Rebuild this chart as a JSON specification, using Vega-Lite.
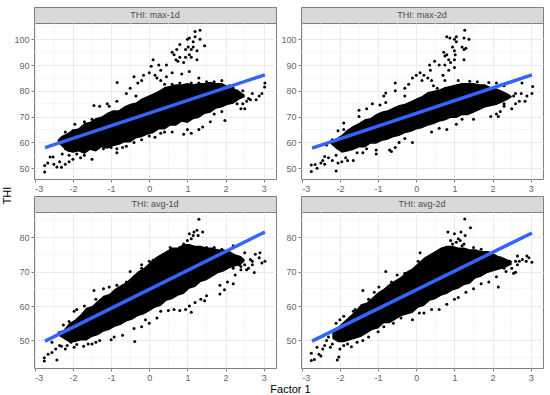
{"$schema":"https://vega.github.io/schema/vega-lite/v6.json","padding":{"left":0,"top":6,"right":0,"bottom":0},"background":"white",
"config":{"font":"Liberation Sans","view":{"stroke":"#7f7f7f","strokeWidth":1},"axis":{"grid":true,"gridColor":"#ebebeb","gridWidth":1,"domain":false,"tickColor":"#7f7f7f","tickSize":3,"labelColor":"#666666","labelFontSize":9,"labelPadding":2,"titleFontWeight":"normal","titleFontSize":11,"titleColor":"#000000"}},
"datasets":{
"minorX":[{"x":-2.5},{"x":-1.5},{"x":-0.5},{"x":0.5},{"x":1.5},{"x":2.5}],
"minorYT":[{"y":55},{"y":65},{"y":75},{"y":85},{"y":95},{"y":105}],
"minorYB":[{"y":45},{"y":55},{"y":65},{"y":75},{"y":85}],
"env1":[{"x":-2.4,"lo":60,"hi":61},{"x":-2.3,"lo":58.5,"hi":62.5},{"x":-2.15,"lo":56.5,"hi":63.5},{"x":-2,"lo":56,"hi":65},{"x":-1.85,"lo":56.5,"hi":65.5},{"x":-1.7,"lo":55.5,"hi":67.5},{"x":-1.55,"lo":57,"hi":68},{"x":-1.4,"lo":56.5,"hi":69.5},{"x":-1.25,"lo":58,"hi":70},{"x":-1.1,"lo":57.5,"hi":71.5},{"x":-0.95,"lo":58.5,"hi":72.5},{"x":-0.8,"lo":59,"hi":72.5},{"x":-0.65,"lo":60,"hi":74},{"x":-0.5,"lo":60,"hi":75},{"x":-0.35,"lo":61.5,"hi":75.5},{"x":-0.2,"lo":62,"hi":77},{"x":-0.05,"lo":63,"hi":78},{"x":0.1,"lo":63.5,"hi":79},{"x":0.25,"lo":65,"hi":80},{"x":0.4,"lo":65,"hi":81.5},{"x":0.55,"lo":66.5,"hi":82},{"x":0.7,"lo":66.5,"hi":82.5},{"x":0.85,"lo":68,"hi":82.5},{"x":1,"lo":67.5,"hi":83},{"x":1.15,"lo":69,"hi":82.5},{"x":1.3,"lo":69.5,"hi":83},{"x":1.45,"lo":71,"hi":83},{"x":1.6,"lo":71.5,"hi":83.5},{"x":1.75,"lo":73,"hi":83},{"x":1.9,"lo":73.5,"hi":83},{"x":2.05,"lo":74.5,"hi":82},{"x":2.2,"lo":75,"hi":81},{"x":2.35,"lo":76.5,"hi":80},{"x":2.5,"lo":77.5,"hi":78.5}],
"env2":[{"x":-2.25,"lo":59.5,"hi":60.5},{"x":-2.1,"lo":57.5,"hi":61.5},{"x":-1.95,"lo":56,"hi":63},{"x":-1.8,"lo":56.5,"hi":65},{"x":-1.65,"lo":57,"hi":66.5},{"x":-1.5,"lo":58,"hi":67.5},{"x":-1.35,"lo":58,"hi":69},{"x":-1.2,"lo":59.5,"hi":69.5},{"x":-1.05,"lo":59.5,"hi":71},{"x":-0.9,"lo":60.5,"hi":72},{"x":-0.75,"lo":61,"hi":72.5},{"x":-0.6,"lo":62,"hi":73.5},{"x":-0.45,"lo":62.5,"hi":74.5},{"x":-0.3,"lo":63.5,"hi":75},{"x":-0.15,"lo":64,"hi":76},{"x":0,"lo":65,"hi":77},{"x":0.15,"lo":65.5,"hi":78},{"x":0.3,"lo":66.5,"hi":79.5},{"x":0.45,"lo":67,"hi":80},{"x":0.6,"lo":68,"hi":80.5},{"x":0.75,"lo":68.5,"hi":81.5},{"x":0.9,"lo":69.5,"hi":82},{"x":1.05,"lo":69.5,"hi":82.5},{"x":1.2,"lo":70.5,"hi":83},{"x":1.35,"lo":70.5,"hi":83},{"x":1.5,"lo":71.5,"hi":83},{"x":1.65,"lo":72.5,"hi":82.5},{"x":1.8,"lo":73.5,"hi":82.5},{"x":1.95,"lo":74,"hi":81.5},{"x":2.1,"lo":74.5,"hi":81},{"x":2.25,"lo":75.5,"hi":80},{"x":2.4,"lo":76.5,"hi":79},{"x":2.5,"lo":77.5,"hi":78}],
"env3":[{"x":-2.4,"lo":51.5,"hi":52.5},{"x":-2.25,"lo":50.5,"hi":53},{"x":-2.1,"lo":49.5,"hi":55},{"x":-1.95,"lo":49.5,"hi":56},{"x":-1.8,"lo":50,"hi":57.5},{"x":-1.65,"lo":50,"hi":59.5},{"x":-1.5,"lo":51,"hi":60},{"x":-1.35,"lo":51.5,"hi":61.5},{"x":-1.2,"lo":52.5,"hi":63},{"x":-1.05,"lo":53,"hi":63.5},{"x":-0.9,"lo":54,"hi":65},{"x":-0.75,"lo":54.5,"hi":66},{"x":-0.6,"lo":55.5,"hi":67},{"x":-0.45,"lo":56,"hi":68.5},{"x":-0.3,"lo":57,"hi":70},{"x":-0.15,"lo":57.5,"hi":71},{"x":0,"lo":58.5,"hi":72.5},{"x":0.15,"lo":59.5,"hi":74},{"x":0.3,"lo":60,"hi":75},{"x":0.45,"lo":61.5,"hi":76},{"x":0.6,"lo":62,"hi":77},{"x":0.75,"lo":63,"hi":77},{"x":0.9,"lo":63.5,"hi":78},{"x":1.05,"lo":65,"hi":78},{"x":1.2,"lo":65.5,"hi":77.5},{"x":1.35,"lo":67,"hi":77.5},{"x":1.5,"lo":67.5,"hi":77},{"x":1.65,"lo":68.5,"hi":77},{"x":1.8,"lo":69.5,"hi":76.5},{"x":1.95,"lo":70,"hi":76.5},{"x":2.1,"lo":71,"hi":76},{"x":2.25,"lo":71.5,"hi":75},{"x":2.4,"lo":72,"hi":74.5},{"x":2.5,"lo":73,"hi":73.5}],
"env4":[{"x":-2.2,"lo":50.5,"hi":52},{"x":-2.05,"lo":49.5,"hi":54},{"x":-1.9,"lo":49.5,"hi":55.5},{"x":-1.75,"lo":50,"hi":57},{"x":-1.6,"lo":50.5,"hi":58.5},{"x":-1.45,"lo":51,"hi":60.5},{"x":-1.3,"lo":52,"hi":61},{"x":-1.15,"lo":53,"hi":62.5},{"x":-1,"lo":53.5,"hi":64},{"x":-0.85,"lo":55,"hi":65},{"x":-0.7,"lo":55,"hi":66.5},{"x":-0.55,"lo":56,"hi":67.5},{"x":-0.4,"lo":57,"hi":68.5},{"x":-0.25,"lo":57.5,"hi":70},{"x":-0.1,"lo":58,"hi":71},{"x":0.05,"lo":59.5,"hi":72.5},{"x":0.2,"lo":60,"hi":74},{"x":0.35,"lo":61.5,"hi":75},{"x":0.5,"lo":62,"hi":76},{"x":0.65,"lo":63,"hi":77},{"x":0.8,"lo":63.5,"hi":77.5},{"x":0.95,"lo":64.5,"hi":77.5},{"x":1.1,"lo":65,"hi":77},{"x":1.25,"lo":66,"hi":77},{"x":1.4,"lo":66.5,"hi":76.5},{"x":1.55,"lo":68,"hi":76.5},{"x":1.7,"lo":68.5,"hi":76},{"x":1.85,"lo":69.5,"hi":76},{"x":2,"lo":70,"hi":75.5},{"x":2.15,"lo":70.5,"hi":74.5},{"x":2.3,"lo":71,"hi":74},{"x":2.5,"lo":72,"hi":73}],
"fit1":[{"x":-2.73,"y":58},{"x":3.03,"y":86.2}],
"fit2":[{"x":-2.73,"y":57.8},{"x":3.03,"y":86.2}],
"fit3":[{"x":-2.73,"y":49.8},{"x":3.03,"y":81.5}],
"fit4":[{"x":-2.73,"y":49.8},{"x":3.03,"y":81.2}],
"pts1":[{"x":-2.74,"y":48.5},{"x":-2.74,"y":51},{"x":-2.66,"y":52},{"x":-2.6,"y":54.3},{"x":-2.52,"y":54.3},{"x":-2.5,"y":51.5},{"x":-2.42,"y":50.5},{"x":-2.3,"y":50.4},{"x":-2.35,"y":52.5},{"x":-2.28,"y":55.5},{"x":-2.2,"y":51.5},{"x":-2.1,"y":52.5},{"x":-2.1,"y":55},{"x":-2,"y":53.5},{"x":-1.9,"y":55.5},{"x":-1.8,"y":54},{"x":-1.7,"y":55},{"x":-1.5,"y":53.5},{"x":-2.3,"y":60},{"x":-2.2,"y":57.5},{"x":-2.0,"y":64.5},{"x":-2.2,"y":64},{"x":-1.95,"y":67},{"x":-1.7,"y":68},{"x":-1.5,"y":69},{"x":-1.45,"y":74.3},{"x":-1.3,"y":74},{"x":-1.1,"y":75},{"x":-1.05,"y":74},{"x":-0.85,"y":76},{"x":-0.84,"y":83.2},{"x":-0.6,"y":79},{"x":-0.5,"y":81},{"x":-0.4,"y":85.5},{"x":-0.3,"y":83},{"x":-0.2,"y":84},{"x":-0.35,"y":78},{"x":-0.15,"y":86},{"x":0,"y":87},{"x":0.05,"y":89.5},{"x":0.1,"y":92},{"x":0.25,"y":90},{"x":0.3,"y":88},{"x":0.45,"y":90},{"x":0.15,"y":86},{"x":0.2,"y":85},{"x":0.3,"y":84},{"x":0.45,"y":85.5},{"x":0.6,"y":87},{"x":0.85,"y":86.5},{"x":1.05,"y":87.5},{"x":1.3,"y":85},{"x":0.4,"y":82.5},{"x":0.6,"y":95},{"x":0.65,"y":94},{"x":0.7,"y":92},{"x":0.72,"y":96},{"x":0.75,"y":91.5},{"x":0.8,"y":98},{"x":0.8,"y":93},{"x":0.9,"y":91},{"x":0.95,"y":96},{"x":1,"y":100},{"x":1.02,"y":97},{"x":1.05,"y":94},{"x":1.05,"y":100.5},{"x":1.1,"y":93},{"x":1.15,"y":97},{"x":1.15,"y":99},{"x":1.2,"y":101},{"x":1.25,"y":95.5},{"x":1.25,"y":92},{"x":1.2,"y":103},{"x":1.33,"y":103.5},{"x":1.33,"y":100},{"x":1.45,"y":97.5},{"x":1.1,"y":96},{"x":0.95,"y":93},{"x":-1.2,"y":57.5},{"x":-1,"y":58},{"x":-0.85,"y":57.5},{"x":-0.85,"y":56},{"x":-0.7,"y":58},{"x":-0.6,"y":58.5},{"x":-0.4,"y":60},{"x":-0.2,"y":61},{"x":0,"y":62.5},{"x":0.15,"y":62},{"x":0.3,"y":63.5},{"x":0.4,"y":64},{"x":0.6,"y":64},{"x":0.9,"y":63.2},{"x":1.1,"y":63.5},{"x":1.0,"y":65},{"x":1.3,"y":65},{"x":1.4,"y":66},{"x":1.6,"y":68},{"x":1.98,"y":68.5},{"x":1.7,"y":71},{"x":1.9,"y":72},{"x":2.2,"y":76},{"x":2.3,"y":75},{"x":2.4,"y":73},{"x":2.45,"y":75},{"x":2.5,"y":73},{"x":2.6,"y":77},{"x":2.7,"y":79},{"x":2.55,"y":76},{"x":2.45,"y":80},{"x":2.65,"y":76.5},{"x":2.8,"y":76.5},{"x":2.88,"y":78},{"x":2.95,"y":79},{"x":3.03,"y":83},{"x":3.02,"y":81.5},{"x":2.4,"y":78},{"x":2.3,"y":80},{"x":2.2,"y":81},{"x":2.1,"y":82},{"x":1.9,"y":84},{"x":1.7,"y":83.5},{"x":1.5,"y":83.5},{"x":1.3,"y":83},{"x":1.1,"y":83},{"x":0.8,"y":83},{"x":0.6,"y":82.5}],
"pts2":[{"x":-2.75,"y":48.7},{"x":-2.75,"y":51.2},{"x":-2.65,"y":51.4},{"x":-2.6,"y":50},{"x":-2.5,"y":52},{"x":-2.45,"y":53},{"x":-2.4,"y":51.5},{"x":-2.4,"y":54.5},{"x":-2.3,"y":54},{"x":-2.2,"y":53},{"x":-2.05,"y":52},{"x":-2.1,"y":55},{"x":-2.1,"y":48.9},{"x":-1.95,"y":52.5},{"x":-1.85,"y":54},{"x":-1.8,"y":53},{"x":-1.65,"y":53},{"x":-1.55,"y":56},{"x":-1.4,"y":56},{"x":-1.3,"y":57.5},{"x":-1.05,"y":57},{"x":-1.05,"y":55.5},{"x":-0.7,"y":57},{"x":-0.65,"y":56.5},{"x":-0.55,"y":58},{"x":-0.1,"y":60},{"x":-0.45,"y":60},{"x":-0.3,"y":61.5},{"x":0.4,"y":64},{"x":0.6,"y":65.5},{"x":0.8,"y":65},{"x":1.05,"y":67},{"x":1.2,"y":69},{"x":1.5,"y":69},{"x":1.95,"y":70},{"x":2.1,"y":71},{"x":-2.35,"y":59},{"x":-2.25,"y":60},{"x":-2.2,"y":61},{"x":-2.05,"y":64.5},{"x":-1.9,"y":65},{"x":-1.9,"y":67.5},{"x":-1.5,"y":70},{"x":-1.5,"y":72.5},{"x":-1.3,"y":73},{"x":-1.15,"y":75},{"x":-0.95,"y":74.5},{"x":-0.8,"y":75.5},{"x":-0.85,"y":78},{"x":-0.8,"y":79.2},{"x":-0.55,"y":80},{"x":-0.55,"y":83},{"x":-0.3,"y":81},{"x":-0.2,"y":82.5},{"x":-0.3,"y":78},{"x":-0.1,"y":85},{"x":0,"y":86},{"x":0.1,"y":87},{"x":0.2,"y":86},{"x":0.15,"y":84},{"x":0.3,"y":85},{"x":0.4,"y":84},{"x":0.45,"y":82},{"x":0.55,"y":81},{"x":0.35,"y":90},{"x":0.37,"y":88},{"x":0.48,"y":91.5},{"x":0.6,"y":90},{"x":0.7,"y":86},{"x":0.75,"y":84},{"x":0.85,"y":88},{"x":1.0,"y":89},{"x":0.75,"y":90},{"x":0.72,"y":95},{"x":0.8,"y":94},{"x":0.75,"y":93.5},{"x":0.85,"y":92},{"x":0.9,"y":91},{"x":1.0,"y":92},{"x":1.02,"y":94},{"x":1,"y":95.5},{"x":0.95,"y":97},{"x":0.8,"y":101},{"x":0.88,"y":100.5},{"x":1.0,"y":100},{"x":1.05,"y":99},{"x":1.05,"y":101},{"x":1.2,"y":97},{"x":1.25,"y":96},{"x":1.3,"y":96.5},{"x":1.25,"y":100.5},{"x":1.38,"y":100},{"x":1.27,"y":103.5},{"x":1.25,"y":92},{"x":2.2,"y":76},{"x":2.3,"y":74},{"x":2.2,"y":72},{"x":2.15,"y":70},{"x":2.3,"y":75},{"x":2.5,"y":73},{"x":2.6,"y":75},{"x":2.7,"y":76},{"x":2.55,"y":78},{"x":2.6,"y":79},{"x":2.75,"y":79},{"x":2.85,"y":76},{"x":2.9,"y":78},{"x":3.03,"y":79},{"x":3.05,"y":81.7},{"x":2.77,"y":83},{"x":2.3,"y":82},{"x":2.1,"y":83},{"x":1.9,"y":83.2},{"x":1.6,"y":83.5},{"x":1.4,"y":83.7},{"x":1.1,"y":84}],
"pts3":[{"x":-2.75,"y":44},{"x":-2.75,"y":45},{"x":-2.65,"y":46},{"x":-2.55,"y":46.5},{"x":-2.55,"y":49.5},{"x":-2.45,"y":47.5},{"x":-2.42,"y":44.3},{"x":-2.35,"y":48.5},{"x":-2.3,"y":48.3},{"x":-2.2,"y":47.5},{"x":-2.15,"y":48.5},{"x":-2.05,"y":49.5},{"x":-1.97,"y":48},{"x":-1.9,"y":48.8},{"x":-1.72,"y":48.3},{"x":-1.6,"y":49},{"x":-1.5,"y":49},{"x":-1.4,"y":49.5},{"x":-1.3,"y":50},{"x":-1.0,"y":50.2},{"x":-0.92,"y":51},{"x":-0.7,"y":51.5},{"x":-0.38,"y":49.7},{"x":-0.4,"y":53.5},{"x":-0.2,"y":54},{"x":0,"y":55},{"x":-0.1,"y":56},{"x":0.2,"y":56.5},{"x":0.3,"y":58.5},{"x":0.5,"y":58.7},{"x":0.65,"y":59},{"x":0.8,"y":58.7},{"x":0.95,"y":59},{"x":1.1,"y":58.2},{"x":1.05,"y":60},{"x":1.2,"y":61},{"x":1.35,"y":62},{"x":1.45,"y":61.5},{"x":1.5,"y":63},{"x":1.85,"y":63.5},{"x":1.97,"y":64.7},{"x":1.85,"y":66},{"x":2.05,"y":67},{"x":2.2,"y":66.5},{"x":2.25,"y":69},{"x":-2.25,"y":54.5},{"x":-2.1,"y":55.5},{"x":-1.97,"y":58.5},{"x":-1.9,"y":59},{"x":-1.7,"y":60},{"x":-1.45,"y":64.5},{"x":-1.4,"y":62},{"x":-1.2,"y":65},{"x":-1.05,"y":65.5},{"x":-0.85,"y":66},{"x":-0.6,"y":67},{"x":-0.5,"y":70},{"x":-0.4,"y":68},{"x":-0.15,"y":69},{"x":-0.2,"y":72},{"x":-0.2,"y":71},{"x":0,"y":73},{"x":0.1,"y":73.3},{"x":0.2,"y":72},{"x":0.4,"y":75},{"x":0.55,"y":77},{"x":0.8,"y":77},{"x":0.75,"y":75.5},{"x":0.9,"y":78},{"x":1,"y":79},{"x":0.95,"y":77},{"x":1.1,"y":79.5},{"x":1.05,"y":81},{"x":1.15,"y":80.5},{"x":1.25,"y":82},{"x":1.28,"y":80.5},{"x":1.17,"y":81.5},{"x":1.4,"y":81.5},{"x":1.3,"y":85.2},{"x":1.2,"y":77},{"x":1.5,"y":77},{"x":1.7,"y":77},{"x":1.9,"y":76.5},{"x":2.2,"y":77.5},{"x":2.15,"y":74},{"x":2.3,"y":73},{"x":2.35,"y":72},{"x":2.4,"y":71.5},{"x":2.5,"y":75.5},{"x":2.5,"y":72},{"x":2.6,"y":71},{"x":2.65,"y":73.5},{"x":2.55,"y":70.5},{"x":2.7,"y":73},{"x":2.7,"y":72},{"x":2.78,"y":75},{"x":2.75,"y":69.7},{"x":2.88,"y":74},{"x":2.9,"y":75.5},{"x":2.95,"y":72.5},{"x":3.03,"y":73},{"x":2.4,"y":70.5},{"x":2.2,"y":71}],
"pts4":[{"x":-2.75,"y":44.2},{"x":-2.75,"y":46.3},{"x":-2.67,"y":44.5},{"x":-2.6,"y":48},{"x":-2.55,"y":46},{"x":-2.5,"y":45.5},{"x":-2.45,"y":47.5},{"x":-2.4,"y":48.5},{"x":-2.35,"y":50},{"x":-2.25,"y":48},{"x":-2.2,"y":49},{"x":-2.07,"y":44.3},{"x":-2.03,"y":45.2},{"x":-2,"y":47.5},{"x":-1.9,"y":48.5},{"x":-1.8,"y":49},{"x":-1.7,"y":48.2},{"x":-1.55,"y":49.5},{"x":-1.4,"y":50},{"x":-1.25,"y":51},{"x":-1.0,"y":52.5},{"x":-0.85,"y":54},{"x":-0.6,"y":55},{"x":-0.4,"y":56.5},{"x":-0.1,"y":56},{"x":0.08,"y":58},{"x":0.2,"y":58},{"x":0.4,"y":59},{"x":0.6,"y":59},{"x":0.8,"y":60.5},{"x":1.0,"y":62},{"x":1.1,"y":62.5},{"x":1.3,"y":64},{"x":1.5,"y":65},{"x":1.7,"y":66.5},{"x":2.15,"y":65.5},{"x":1.9,"y":67},{"x":2.1,"y":68.5},{"x":-2.3,"y":51},{"x":-2.1,"y":55},{"x":-2,"y":56},{"x":-1.9,"y":57},{"x":-1.6,"y":59},{"x":-1.65,"y":58.5},{"x":-1.4,"y":64.5},{"x":-1.25,"y":62},{"x":-1.1,"y":64},{"x":-0.98,"y":65.5},{"x":-0.8,"y":70},{"x":-0.65,"y":67},{"x":-0.5,"y":69},{"x":-0.3,"y":69.5},{"x":-0.15,"y":70},{"x":0.1,"y":75.5},{"x":0.05,"y":73},{"x":0.25,"y":73.5},{"x":0.4,"y":74},{"x":0.6,"y":76},{"x":0.75,"y":76.5},{"x":0.83,"y":81.5},{"x":0.9,"y":79},{"x":0.95,"y":78},{"x":1,"y":81},{"x":1.05,"y":78.5},{"x":1.1,"y":79.5},{"x":1.15,"y":79},{"x":1.2,"y":77.5},{"x":1.17,"y":81.5},{"x":1.28,"y":80.5},{"x":1.25,"y":78},{"x":1.27,"y":85.3},{"x":1.42,"y":82.7},{"x":1.5,"y":77},{"x":1.7,"y":76.5},{"x":1.9,"y":75.5},{"x":2.1,"y":73},{"x":2.2,"y":74},{"x":2.35,"y":72},{"x":2.45,"y":73},{"x":2.5,"y":71},{"x":2.55,"y":69.5},{"x":2.6,"y":73},{"x":2.65,"y":74.5},{"x":2.65,"y":72},{"x":2.35,"y":70},{"x":2.3,"y":71},{"x":2.7,"y":73},{"x":2.6,"y":69.8},{"x":2.78,"y":73.5},{"x":2.88,"y":73},{"x":2.9,"y":74.5},{"x":2.95,"y":74},{"x":3.03,"y":72.7},{"x":2.2,"y":72}]
},
"concat":[
{"width":242,"height":16,"view":{"fill":"#d9d9d9","stroke":"#7f7f7f"},"data":{"values":[{"label":"THI: max-1d"}]},"mark":{"type":"text","fontSize":9,"color":"#4d4d4d"},"encoding":{"text":{"field":"label"}}},
{"width":242,"height":16,"view":{"fill":"#d9d9d9","stroke":"#7f7f7f"},"data":{"values":[{"label":"THI: max-2d"}]},"mark":{"type":"text","fontSize":9,"color":"#4d4d4d"},"encoding":{"text":{"field":"label"}}},
{"width":242,"height":156,"encoding":{"x":{"field":"x","type":"quantitative","scale":{"domain":[-3.02,3.32]},"axis":{"values":[-3,-2,-1,0,1,2,3],"title":null,"labelExpr":"replace(datum.label,'−','-')"}},"y":{"field":"y","type":"quantitative","scale":{"domain":[45.8,106.3]},"axis":{"values":[50,60,70,80,90,100],"title":"THI","titleX":-22,"titleY":172,"titleAnchor":"middle"}}},
"layer":[
{"data":{"name":"minorX"},"mark":{"type":"rule","color":"#f0f0f0","strokeWidth":0.6},"encoding":{"y":null}},
{"data":{"name":"minorYT"},"mark":{"type":"rule","color":"#f0f0f0","strokeWidth":0.6},"encoding":{"x":null}},
{"data":{"name":"env1"},"mark":{"type":"area","color":"#000000"},"encoding":{"y":{"field":"lo","type":"quantitative","scale":{"domain":[45.8,106.3]},"axis":{"values":[50,60,70,80,90,100],"title":"THI","titleX":-22,"titleY":172,"titleAnchor":"middle"}},"y2":{"field":"hi"}}},
{"data":{"name":"pts1"},"mark":{"type":"circle","color":"#000000","size":9,"opacity":1}},
{"data":{"name":"fit1"},"mark":{"type":"line","color":"#3366ff","strokeWidth":3.5}}
]},
{"width":242,"height":156,"encoding":{"x":{"field":"x","type":"quantitative","scale":{"domain":[-3.02,3.32]},"axis":{"values":[-3,-2,-1,0,1,2,3],"title":null,"labelExpr":"replace(datum.label,'−','-')"}},"y":{"field":"y","type":"quantitative","scale":{"domain":[45.8,106.3]},"axis":{"values":[50,60,70,80,90,100],"title":null}}},
"layer":[
{"data":{"name":"minorX"},"mark":{"type":"rule","color":"#f0f0f0","strokeWidth":0.6},"encoding":{"y":null}},
{"data":{"name":"minorYT"},"mark":{"type":"rule","color":"#f0f0f0","strokeWidth":0.6},"encoding":{"x":null}},
{"data":{"name":"env2"},"mark":{"type":"area","color":"#000000"},"encoding":{"y":{"field":"lo","type":"quantitative","scale":{"domain":[45.8,106.3]},"axis":{"values":[50,60,70,80,90,100],"title":null}},"y2":{"field":"hi"}}},
{"data":{"name":"pts2"},"mark":{"type":"circle","color":"#000000","size":9,"opacity":1}},
{"data":{"name":"fit2"},"mark":{"type":"line","color":"#3366ff","strokeWidth":3.5}}
]},
{"width":242,"height":17,"view":{"stroke":null},"data":{"values":[{"label":""}]},"mark":{"type":"text"},"encoding":{"text":{"field":"label"}}},
{"width":242,"height":17,"view":{"stroke":null},"data":{"values":[{"label":""}]},"mark":{"type":"text"},"encoding":{"text":{"field":"label"}}},
{"width":242,"height":16,"view":{"fill":"#d9d9d9","stroke":"#7f7f7f"},"data":{"values":[{"label":"THI: avg-1d"}]},"mark":{"type":"text","fontSize":9,"color":"#4d4d4d"},"encoding":{"text":{"field":"label"}}},
{"width":242,"height":16,"view":{"fill":"#d9d9d9","stroke":"#7f7f7f"},"data":{"values":[{"label":"THI: avg-2d"}]},"mark":{"type":"text","fontSize":9,"color":"#4d4d4d"},"encoding":{"text":{"field":"label"}}},
{"width":242,"height":156,"encoding":{"x":{"field":"x","type":"quantitative","scale":{"domain":[-3.02,3.32]},"axis":{"values":[-3,-2,-1,0,1,2,3],"title":"Factor 1","titleX":256,"titleY":15,"titleAnchor":"middle","labelExpr":"replace(datum.label,'−','-')"}},"y":{"field":"y","type":"quantitative","scale":{"domain":[42,87.3]},"axis":{"values":[50,60,70,80],"title":null}}},
"layer":[
{"data":{"name":"minorX"},"mark":{"type":"rule","color":"#f0f0f0","strokeWidth":0.6},"encoding":{"y":null}},
{"data":{"name":"minorYB"},"mark":{"type":"rule","color":"#f0f0f0","strokeWidth":0.6},"encoding":{"x":null}},
{"data":{"name":"env3"},"mark":{"type":"area","color":"#000000"},"encoding":{"y":{"field":"lo","type":"quantitative","scale":{"domain":[42,87.3]},"axis":{"values":[50,60,70,80],"title":null}},"y2":{"field":"hi"}}},
{"data":{"name":"pts3"},"mark":{"type":"circle","color":"#000000","size":9,"opacity":1}},
{"data":{"name":"fit3"},"mark":{"type":"line","color":"#3366ff","strokeWidth":3.5}}
]},
{"width":242,"height":156,"encoding":{"x":{"field":"x","type":"quantitative","scale":{"domain":[-3.02,3.32]},"axis":{"values":[-3,-2,-1,0,1,2,3],"title":null,"labelExpr":"replace(datum.label,'−','-')"}},"y":{"field":"y","type":"quantitative","scale":{"domain":[42,87.3]},"axis":{"values":[50,60,70,80],"title":null}}},
"layer":[
{"data":{"name":"minorX"},"mark":{"type":"rule","color":"#f0f0f0","strokeWidth":0.6},"encoding":{"y":null}},
{"data":{"name":"minorYB"},"mark":{"type":"rule","color":"#f0f0f0","strokeWidth":0.6},"encoding":{"x":null}},
{"data":{"name":"env4"},"mark":{"type":"area","color":"#000000"},"encoding":{"y":{"field":"lo","type":"quantitative","scale":{"domain":[42,87.3]},"axis":{"values":[50,60,70,80],"title":null}},"y2":{"field":"hi"}}},
{"data":{"name":"pts4"},"mark":{"type":"circle","color":"#000000","size":9,"opacity":1}},
{"data":{"name":"fit4"},"mark":{"type":"line","color":"#3366ff","strokeWidth":3.5}}
]}
],"columns":2,"bounds":"flush","spacing":{"row":0,"column":25}}
